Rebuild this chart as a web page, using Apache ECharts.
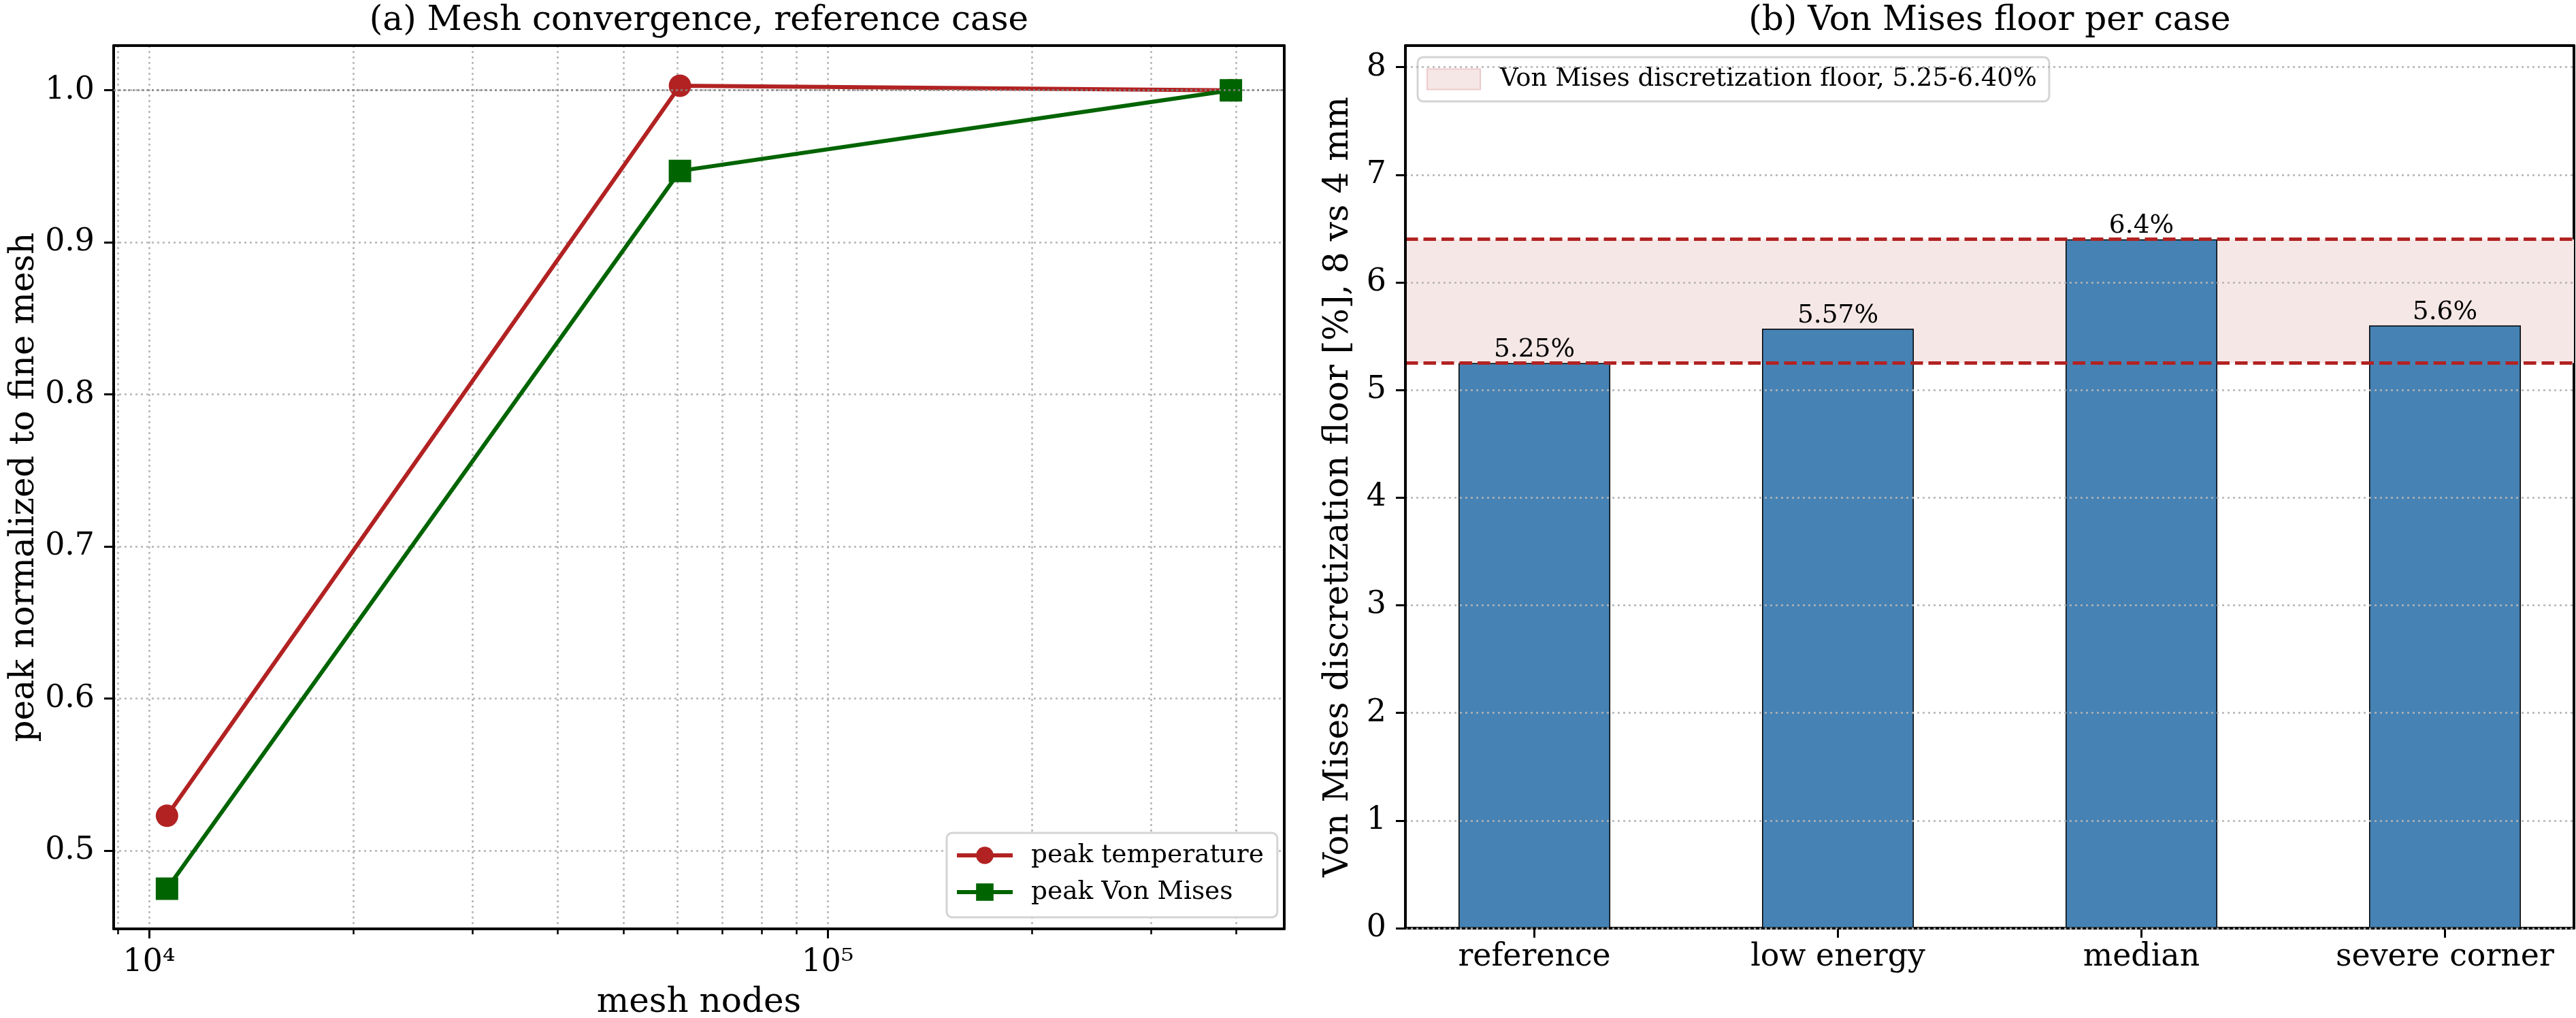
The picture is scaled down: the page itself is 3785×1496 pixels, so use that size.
<!DOCTYPE html>
<html><head><meta charset="utf-8">
<script src="https://cdn.jsdelivr.net/npm/echarts@6/dist/echarts.min.js"></script>
<style>html,body{margin:0;padding:0;background:#fff}#c{width:3785px;height:1496px}</style>
</head><body><div id="c"></div>
<script>
// ---- data ----
const meshNodes = [10630, 60600, 393000];
const peakTemperature = [0.523, 1.003, 1.0];
const peakVonMises = [0.475, 0.947, 1.0];
const xMajorTicks = [10000, 100000];
const xMinorTicks = [9000, 20000, 30000, 40000, 50000, 60000, 70000, 80000, 90000, 200000, 300000, 400000];
const yTicksA = [0.5, 0.6, 0.7, 0.8, 0.9, 1.0];
const referenceLevel = 1.0;

const cases = ['reference', 'low energy', 'median', 'severe corner'];
const floorValues = [5.25, 5.57, 6.40, 5.60];
const yTicksB = [0, 1, 2, 3, 4, 5, 6, 7, 8];
const floorBand = [5.25, 6.40];
const bandName = 'Von Mises discretization floor, 5.25-6.40%';

// ---- styles ----
const FONT = 'DejaVu Serif';
const frame = { show: true, onZero: false, lineStyle: { color: '#000', width: 4 } };
const gridDot = { color: '#b4b4b4', width: 2.5, type: [3, 5] };
const sup = { 4: '\u2074', 5: '\u2075', 3: '\u00b3', 6: '\u2076' };

const chart = echarts.init(document.getElementById('c'), null, { renderer: 'canvas' });
const option = {
  animation: false,
  backgroundColor: '#fff',
  textStyle: { fontFamily: FONT, color: '#000' },
  grid: [
    { left: 167, top: 67, width: 1720, height: 1298, outerBoundsMode: 'none' },
    { left: 2065, top: 67, width: 1717, height: 1297, outerBoundsMode: 'none' }
  ],
  legend: [
    {
      orient: 'vertical', left: 1391, top: 1224,
      data: ['peak temperature', 'peak Von Mises'],
      itemWidth: 82, itemHeight: 32, itemGap: 16,
      padding: [14, 20, 18, 12],
      lineStyle: { width: 6 },
      backgroundColor: '#fff', borderColor: '#d4d4d4', borderWidth: 3, borderRadius: 8,
      textStyle: { fontFamily: FONT, fontSize: 37.5, color: '#000', padding: [0, 0, 0, 22] }
    },
    {
      orient: 'vertical', left: 2083, top: 84,
      data: [{ name: bandName, icon: 'rect', itemStyle: { color: '#f6e7e7', borderColor: '#eec9c9', borderWidth: 2 } }],
      itemWidth: 78, itemHeight: 30,
      padding: [14, 18, 14, 13],
      backgroundColor: '#fff', borderColor: '#d4d4d4', borderWidth: 3, borderRadius: 8,
      textStyle: { fontFamily: FONT, fontSize: 37, color: '#000', padding: [0, 0, 0, 24] }
    }
  ],
  xAxis: [
    { // 0: left log, major
      type: 'log', logBase: 10, gridIndex: 0, position: 'bottom', min: 8870, max: 471000,
      name: 'mesh nodes', nameLocation: 'middle', nameGap: 84,
      nameTextStyle: { fontFamily: FONT, fontSize: 50, color: '#000' },
      axisLine: frame,
      axisTick: { show: true, customValues: xMajorTicks, length: 14, lineStyle: { color: '#000', width: 3 } },
      axisLabel: { show: true, customValues: xMajorTicks, margin: 27, fontSize: 45.8, color: '#000', fontFamily: FONT,
        formatter: v => { const e = Math.round(Math.log10(v)); return '10' + (sup[e] || e); } },
      splitLine: { show: true, lineStyle: gridDot }
    },
    { // 1: left log, minor
      type: 'log', logBase: 10, gridIndex: 0, position: 'bottom', min: 8870, max: 471000,
      axisLine: { show: false, onZero: false },
      axisTick: { show: true, customValues: xMinorTicks, length: 8, lineStyle: { color: '#000', width: 2.5 } },
      axisLabel: { show: false },
      splitLine: { show: true, lineStyle: gridDot }
    },
    { // 2: left top frame + title
      type: 'value', gridIndex: 0, position: 'top', min: 0, max: 1,
      name: '(a) Mesh convergence, reference case', nameLocation: 'middle', nameGap: 11,
      nameTextStyle: { fontFamily: FONT, fontSize: 50, color: '#000' },
      axisLine: frame, axisTick: { show: false }, axisLabel: { show: false }, splitLine: { show: false }
    },
    { // 3: right categories on value scale
      type: 'value', gridIndex: 1, position: 'bottom', min: -0.425, max: 3.425,
      axisLine: frame,
      axisTick: { show: true, customValues: cases.map((c, i) => i), length: 14, lineStyle: { color: '#000', width: 3 } },
      axisLabel: { show: true, customValues: cases.map((c, i) => i), margin: 20, fontSize: 45.8, color: '#000', fontFamily: FONT,
        formatter: v => cases[Math.round(v)] },
      splitLine: { show: false }
    },
    { // 4: right top frame + title
      type: 'value', gridIndex: 1, position: 'top', min: 0, max: 1,
      name: '(b) Von Mises floor per case', nameLocation: 'middle', nameGap: 11,
      nameTextStyle: { fontFamily: FONT, fontSize: 50, color: '#000' },
      axisLine: frame, axisTick: { show: false }, axisLabel: { show: false }, splitLine: { show: false }
    }
  ],
  yAxis: [
    { // 0: left
      type: 'value', gridIndex: 0, position: 'left', min: 0.4486, max: 1.0294,
      name: 'peak normalized to fine mesh', nameLocation: 'middle', nameGap: 106,
      nameTextStyle: { fontFamily: FONT, fontSize: 50, color: '#000' },
      axisLine: frame,
      axisTick: { show: true, customValues: yTicksA, length: 14, lineStyle: { color: '#000', width: 3 } },
      axisLabel: { show: true, customValues: yTicksA, margin: 28, fontSize: 45.8, color: '#000', fontFamily: FONT,
        formatter: v => v.toFixed(1) },
      splitLine: { show: true, lineStyle: gridDot }
    },
    { // 1: left right frame
      type: 'value', gridIndex: 0, position: 'right', min: 0, max: 1,
      axisLine: frame, axisTick: { show: false }, axisLabel: { show: false }, splitLine: { show: false }
    },
    { // 2: right plot
      type: 'value', gridIndex: 1, position: 'left', min: 0, max: 8.2, z: 10,
      name: 'Von Mises discretization floor [%], 8 vs 4 mm', nameLocation: 'middle', nameGap: 73,
      nameTextStyle: { fontFamily: FONT, fontSize: 50, color: '#000' },
      axisLine: frame,
      axisTick: { show: true, customValues: yTicksB, length: 14, lineStyle: { color: '#000', width: 3 } },
      axisLabel: { show: true, customValues: yTicksB, margin: 28, fontSize: 45.8, color: '#000', fontFamily: FONT },
      splitLine: { show: true, lineStyle: gridDot }
    },
    { // 3: right plot right frame
      type: 'value', gridIndex: 1, position: 'right', min: 0, max: 1,
      axisLine: frame, axisTick: { show: false }, axisLabel: { show: false }, splitLine: { show: false }
    }
  ],
  series: [
    {
      name: 'peak temperature', type: 'line', xAxisIndex: 0, yAxisIndex: 0, z: 3,
      data: meshNodes.map((x, i) => [x, peakTemperature[i]]),
      symbol: 'circle', symbolSize: 33,
      itemStyle: { color: '#b22222' }, lineStyle: { color: '#b22222', width: 6 },
      markLine: {
        silent: true, symbol: ['none', 'none'], label: { show: false },
        lineStyle: { color: '#858585', width: 2.5, type: [3, 4] },
        data: [{ yAxis: referenceLevel }]
      }
    },
    {
      name: 'peak Von Mises', type: 'line', xAxisIndex: 0, yAxisIndex: 0, z: 3,
      data: meshNodes.map((x, i) => [x, peakVonMises[i]]),
      symbol: 'rect', symbolSize: 33,
      itemStyle: { color: '#006400' }, lineStyle: { color: '#006400', width: 6 }
    },
    {
      name: bandName, type: 'line', xAxisIndex: 3, yAxisIndex: 2, z: 1, data: [],
      itemStyle: { color: '#f6e7e7' },
      markArea: {
        silent: true, itemStyle: { color: '#f6e7e7' },
        data: [[{ yAxis: floorBand[0] }, { yAxis: floorBand[1] }]]
      }
    },
    {
      name: 'floors', type: 'bar', xAxisIndex: 3, yAxisIndex: 2, z: 2,
      data: floorValues.map((v, i) => [i, v]),
      barWidth: '50%',
      itemStyle: { color: '#4682b4', borderColor: '#000', borderWidth: 1.5 },
      label: { show: true, position: 'top', distance: 0, fontSize: 37.5, color: '#000', fontFamily: FONT,
        formatter: p => Number(p.value[1].toPrecision(3)) + '%' }
    },
    {
      name: 'floor lines', type: 'line', xAxisIndex: 3, yAxisIndex: 2, z: 5, data: [],
      markLine: {
        silent: true, symbol: ['none', 'none'], label: { show: false },
        lineStyle: { color: '#b22222', width: 5, type: [18.5, 8] },
        data: floorBand.map(v => ({ yAxis: v }))
      }
    }
  ]
};
chart.setOption(option);
</script></body></html>
